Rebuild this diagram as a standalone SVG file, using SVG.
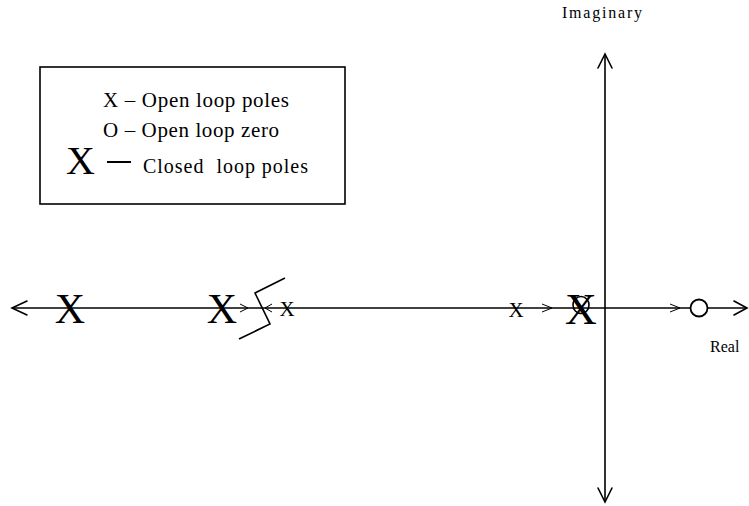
<svg xmlns="http://www.w3.org/2000/svg" width="749" height="506" viewBox="0 0 749 506">
<style>
.ln{stroke:#000;stroke-width:1.6;fill:none}
.ah{stroke:#000;stroke-width:1.6;fill:none;stroke-linecap:round}
.sa{stroke:#000;stroke-width:1;fill:none}
.t{font-family:"Liberation Serif","Times New Roman",serif;fill:#000;white-space:pre}
</style>
<rect width="749" height="506" fill="#fff"/>
<g id="axes">
  <line class="ln" x1="12" y1="308" x2="747" y2="308"/>
  <polyline class="ah" points="27,301 12,308 27,315"/>
  <polyline class="ah" points="734,301 747,308 734,315"/>
  <line class="ln" x1="605" y1="54" x2="605" y2="502"/>
  <polyline class="ah" points="598,68 605,54 612,68"/>
  <polyline class="ah" points="598,488 605,502 612,488"/>
</g>
<g id="labels">
  <text class="t" x="562" y="18" font-size="16" textLength="80" lengthAdjust="spacing">Imaginary</text>
  <text class="t" x="710" y="352" font-size="16">Real</text>
</g>
<g id="legend">
  <rect x="40" y="67" width="305" height="137" fill="none" stroke="#000" stroke-width="1.6"/>
  <text class="t" x="103" y="107" font-size="21" textLength="186" lengthAdjust="spacing">X – Open loop poles</text>
  <text class="t" x="103" y="137" font-size="21" textLength="176" lengthAdjust="spacing">O – Open loop zero</text>
  <text class="t" x="66" y="174" font-size="40">X</text>
  <line x1="107" y1="162" x2="131" y2="162" stroke="#000" stroke-width="2"/>
  <text class="t" x="143" y="173" font-size="20" textLength="165" lengthAdjust="spacing">Closed  loop poles</text>
</g>
<g id="connectors">
  <polyline class="sa" points="240,304 248,308 240,312"/>
  <polyline class="sa" points="272,304 265,308 272,312"/>
  <polyline class="sa" points="542,304 552,308 542,312"/>
  <polyline class="sa" points="670,304 680,308 670,312"/>
  <polyline class="ln" points="285,278 255,293 270,324 239,339"/>
</g>
<g id="poles">
  <text class="t" x="70" y="323" font-size="42" text-anchor="middle">X</text>
  <text class="t" x="222" y="323" font-size="42" text-anchor="middle">X</text>
  <text class="t" x="287" y="316" font-size="21" text-anchor="middle">X</text>
  <text class="t" x="516" y="317" font-size="21" text-anchor="middle">X</text>
  <text class="t" x="581" y="324" font-size="44" text-anchor="middle">X</text>
</g>
<g id="zeros">
  <ellipse cx="581" cy="305" rx="8" ry="8.5" fill="none" stroke="#000" stroke-width="1.6"/>
  <circle cx="699" cy="308" r="8.5" fill="#fff" stroke="#000" stroke-width="1.8"/>
</g>
</svg>
